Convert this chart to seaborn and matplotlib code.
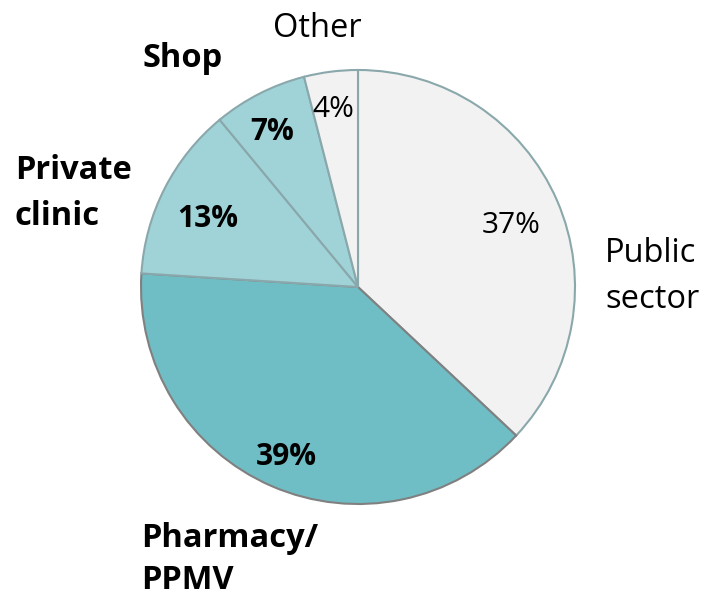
import matplotlib
matplotlib.use("Agg")
import matplotlib.pyplot as plt
import seaborn as sns

sns.set_theme(style="white")
plt.rcParams['font.family'] = ['Open Sans', 'DejaVu Sans']

categories = ["Public\nsector", "Pharmacy/\nPPMV", "Private\nclinic", "Shop", "Other"]
values = [37, 39, 13, 7, 4]
pct_labels = ["37%", "39%", "13%", "7%", "4%"]
colors = ["#F2F2F2", "#70BEC5", "#A0D3D8", "#A0D3D8", "#F2F2F2"]
edge_colors = ["#8AA8AB", "#808080", "#8AA8AB", "#8AA8AB", "#8AA8AB"]
bold = [False, True, True, True, False]

W, H = 710, 601
fig = plt.figure(figsize=(W / 100, H / 100), dpi=100)
ax = fig.add_axes([0, 0, 1, 1])

cx, cy, r = 358, H - 287, 217
wedges, _ = ax.pie(values, colors=colors, startangle=90, counterclock=False,
                   center=(cx, cy), radius=r, frame=True,
                   wedgeprops=dict(linewidth=1.5))
for w, ec in zip(wedges, edge_colors):
    w.set_edgecolor(ec)
ax.set_xlim(0, W)
ax.set_ylim(0, H)
ax.set_aspect("equal")
ax.axis("off")

# percent labels: (center x, baseline y) in pixels from top
pct_pos = [(511, 233), (286, 465), (208, 227), (272, 140), (333, 117)]
for (x, y), t, b in zip(pct_pos, pct_labels, bold):
    ax.text(x, H - y, t, ha="center", va="baseline", fontsize=21.5,
            fontweight="bold" if b else "normal", color="black")

# category labels: (x, first baseline y, ha, line gap)
cat_pos = [(605, 262, "left", 46), (141, 547, "left", 42), (15, 179, "left", 46),
           (183, 67, "center", 46), (317, 37, "center", 46)]
for (x, y, ha, gap), t, b in zip(cat_pos, categories, bold):
    for i, line in enumerate(t.split("\n")):
        ax.text(x, H - (y + i * gap), line, ha=ha, va="baseline",
                fontsize=23.5, fontweight="bold" if b else "normal",
                color="black")

fig.savefig("out.png", dpi=100, facecolor="white")
